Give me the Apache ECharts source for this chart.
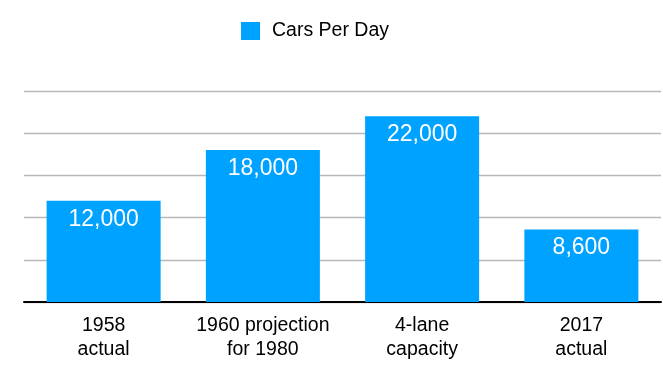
<!DOCTYPE html>
<html><head><meta charset="utf-8">
<script src="https://cdn.jsdelivr.net/npm/echarts@6/dist/echarts.min.js"></script>
<style>html,body{margin:0;padding:0;background:#fff}#c{width:663px;height:373px}</style>
</head><body><div id="c"></div>
<script>
const categories = ['1958\nactual', '1960 projection\nfor 1980', '4-lane\ncapacity', '2017\nactual'];
const seriesName = 'Cars Per Day';
const values = [12000, 18000, 22000, 8600];

const chart = echarts.init(document.getElementById('c'), null, {renderer: 'canvas'});
chart.setOption({
  animation: false,
  textStyle: {fontFamily: 'Liberation Sans, Arial, sans-serif'},
  legend: {
    data: [seriesName],
    left: 236, top: 16,
    itemWidth: 19, itemHeight: 18, itemGap: 10,
    icon: 'rect',
    textStyle: {fontSize: 19.5, color: '#000', fontFamily: 'Liberation Sans', padding: [0,0,0,7]}
  },
  grid: {left: 24, right: 2, top: 91, bottom: 71, containLabel: false},
  xAxis: {
    type: 'category', data: categories,
    axisLine: {lineStyle: {color: '#000', width: 2}},
    axisTick: {show: false},
    axisLabel: {interval: 0, fontSize: 19.5, color: '#000', lineHeight: 24, margin: 12, fontFamily: 'Liberation Sans'}
  },
  yAxis: {
    type: 'value', min: 0, max: 25000, interval: 5000,
    axisLabel: {show: false}, axisLine: {show: false}, axisTick: {show: false},
    splitLine: {lineStyle: {color: '#b8b8b8', width: 1.3}}
  },
  series: [{
    name: seriesName, type: 'bar', data: values, barWidth: 114,
    itemStyle: {color: '#00A2FF'},
    label: {
      show: true, position: 'insideTop', distance: 7,
      color: '#fff', fontSize: 23, fontFamily: 'Liberation Sans',
      formatter: p => p.value.toLocaleString('en-US')
    }
  }]
});
</script></body></html>
